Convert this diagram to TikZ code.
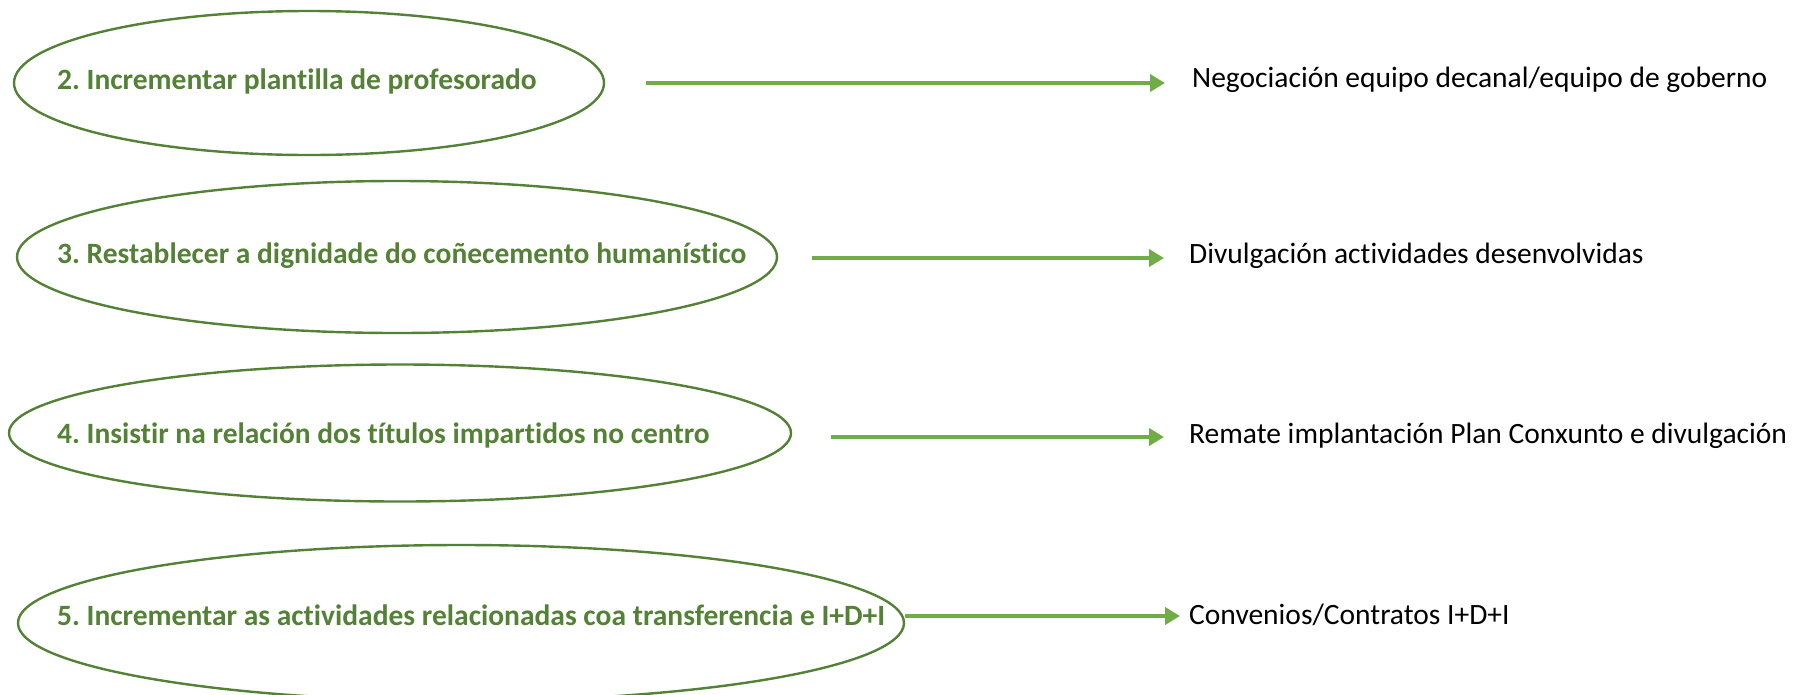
\documentclass[tikz,border=0pt]{standalone}
\usepackage{fontspec}
\setmainfont[Ligatures=NoCommon]{Carlito}
\frenchspacing
\usetikzlibrary{shapes.geometric,arrows.meta}
\definecolor{dgreen}{HTML}{538135}
\definecolor{lgreen}{HTML}{70AD47}
\tikzset{
  goal/.style={draw=dgreen,line width=2.4pt,ellipse,inner sep=0pt},
  goaltext/.style={anchor=west,inner sep=0pt,text=dgreen,font=\fontsize{29.5}{34}\selectfont\bfseries},
  result/.style={anchor=west,inner sep=0pt,text=black,font=\fontsize{29.5}{34}\selectfont},
  link/.style={draw=lgreen,line width=4pt,-{Triangle[length=15pt,width=17pt]}}
}
\begin{document}
\begin{tikzpicture}[x=1pt,y=-1pt]
\useasboundingbox (0,0) rectangle (1798,694);
% ellipses
\node[goal,minimum width=590pt,minimum height=144pt] (e1) at (309,83) {};
\node[goal,minimum width=760pt,minimum height=152pt] (e2) at (397,257) {};
\node[goal,minimum width=782pt,minimum height=137pt] (e3) at (400,433) {};
\node[goal,minimum width=886pt,minimum height=156pt] (e4) at (461,623) {};
% texts
\node[goaltext] (t1) at (57,81) {2. Incrementar plantilla de profesorado};
\node[goaltext] (t2) at (57,256) {3. Restablecer a dignidade do coñecemento humanístico};
\node[goaltext] (t3) at (57,435) {4. Insistir na relación dos títulos impartidos no centro};
\node[goaltext] (t4) at (57,615) {5. Incrementar as actividades relacionadas coa transferencia e I+D+I};
% results
\node[result] (r1) at (1192,80) {Negociación equipo decanal/equipo de goberno};
\node[result] (r2) at (1189,256) {Divulgación actividades desenvolvidas};
\node[result] (r3) at (1189,436) {Remate implantación Plan Conxunto e divulgación};
\node[result] (r4) at (1189,615) {Convenios/Contratos I+D+I};
% arrow starts
\coordinate (s1) at (646,83);
\coordinate (s2) at (812,258);
\coordinate (s3) at (831,437);
\coordinate (s4) at (905,616);
\draw[link,shorten >=27pt] (s1) -- (s1 -| r1.west);
\draw[link,shorten >=25pt] (s2) -- (s2 -| r2.west);
\draw[link,shorten >=25pt] (s3) -- (s3 -| r3.west);
\draw[link,shorten >=9pt] (s4) -- (s4 -| r4.west);
\end{tikzpicture}
\end{document}
